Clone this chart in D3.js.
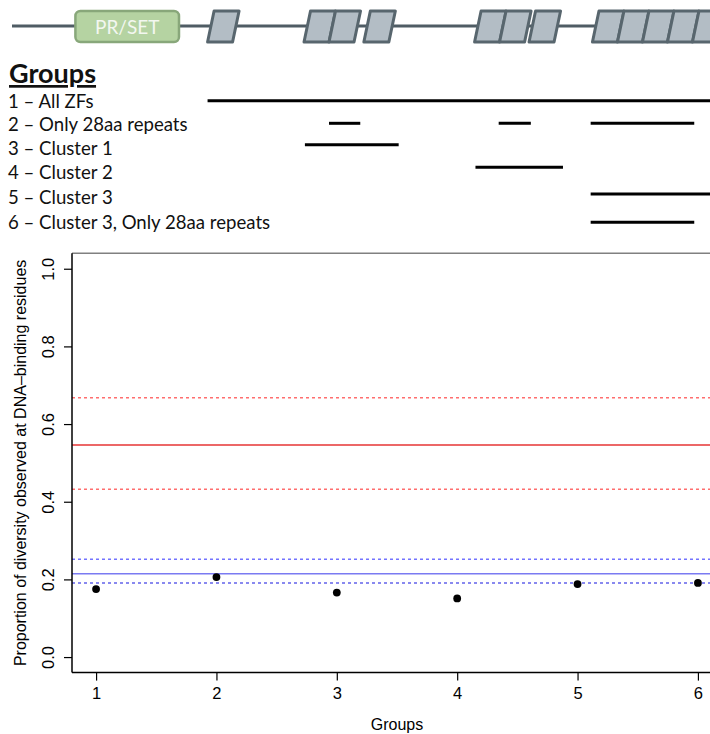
<!DOCTYPE html>
<html>
<head>
<meta charset="utf-8">
<script src="https://cdn.jsdelivr.net/npm/d3@7"></script>
<style>
  html, body { margin: 0; padding: 0; background: #fff; }
  svg { display: block; }
</style>
</head>
<body>
<svg id="fig" width="710" height="734"></svg>
<script>
// ---- Gene model (positions in amino-acid units) ----
const geneLength = 800;
const prSetDomain = [71, 187];
const zfLength = 28;
const zfStarts = [219, 327, 355, 394, 518, 546, 579, 650, 678, 706, 734, 762, 790];

// ---- Groups and the protein regions they cover ----
const groupLabels = [
  "1 \u2013 All ZFs",
  "2 \u2013 Only 28aa repeats",
  "3 \u2013 Cluster 1",
  "4 \u2013 Cluster 2",
  "5 \u2013 Cluster 3",
  "6 \u2013 Cluster 3, Only 28aa repeats"
];
const groupSegments = [
  [[219, 800]],
  [[355, 390], [545, 581], [648, 764]],
  [[328, 433]],
  [[519, 617]],
  [[648, 800]],
  [[648, 764]]
];

// ---- Diversity at DNA-binding residues per group ----
const groups = [1, 2, 3, 4, 5, 6];
const diversity = [0.175, 0.206, 0.166, 0.151, 0.188, 0.191];

// Reference levels: mean (solid) and interval bounds (dotted)
const redMean = 0.546, redLow = 0.432, redHigh = 0.668;
const blueMean = 0.2146, blueHigh = 0.252;
const baseline = 0.1906;

const yTicks = [0, 0.2, 0.4, 0.6, 0.8, 1.0];

const svg = d3.select("#fig");
const legendFont = "Lato, 'Open Sans', sans-serif";
const font = "'Liberation Sans', Arial, Helvetica, sans-serif";

// ================= Gene diagram =================
const gx = d3.scaleLinear().domain([0, geneLength]).range([12, 726.4]);
const geneY = 26, boxTop = 11, boxBot = 42, skew = 6.5;

const gene = svg.append("g");
gene.append("line")
  .attr("x1", gx(0)).attr("x2", gx(geneLength))
  .attr("y1", geneY).attr("y2", geneY)
  .attr("stroke", "#4f5c64").attr("stroke-width", 3);

gene.selectAll("path.zf").data(zfStarts).join("path")
  .attr("class", "zf")
  .attr("d", d => {
    const x0 = gx(d), x1 = gx(d + zfLength);
    return `M${x0},${boxBot} L${x0 + skew},${boxTop} L${x1 + skew},${boxTop} L${x1},${boxBot} Z`;
  })
  .attr("fill", "#b3bdc5")
  .attr("stroke", "#58666e")
  .attr("stroke-width", 3)
  .attr("stroke-linejoin", "round");

gene.append("rect")
  .attr("x", gx(prSetDomain[0])).attr("y", boxTop)
  .attr("width", gx(prSetDomain[1]) - gx(prSetDomain[0]))
  .attr("height", boxBot - boxTop)
  .attr("rx", 5).attr("ry", 5)
  .attr("fill", "#b5d3a2")
  .attr("stroke", "#88a77a")
  .attr("stroke-width", 2.5);

gene.append("text")
  .attr("x", (gx(prSetDomain[0]) + gx(prSetDomain[1])) / 2)
  .attr("y", 33.5)
  .attr("text-anchor", "middle")
  .attr("font-family", legendFont)
  .attr("font-size", 19)
  .attr("fill", "#f3f7f0")
  .text("PR/SET");

// ================= Group legend =================
const legend = svg.append("g");
legend.append("text")
  .attr("x", 9).attr("y", 83)
  .attr("font-family", legendFont)
  .attr("font-weight", "bold")
  .attr("font-size", 27)
  .attr("fill", "#111")
  .attr("text-decoration", "underline")
  .text("Groups");

const rowY = [101, 124, 148, 172.5, 197.5, 222.5];
const segY = [100.7, 123.3, 144.7, 167.3, 194, 222.3];

legend.selectAll("text.grp").data(groupLabels).join("text")
  .attr("class", "grp")
  .attr("x", 8)
  .attr("y", (d, i) => rowY[i] + 6.5)
  .attr("font-family", legendFont)
  .attr("font-size", 18.6)
  .attr("fill", "#111")
  .text(d => d);

groupSegments.forEach((segs, i) => {
  legend.selectAll(null).data(segs).join("line")
    .attr("x1", d => gx(d[0])).attr("x2", d => gx(d[1]))
    .attr("y1", segY[i]).attr("y2", segY[i])
    .attr("stroke", "#000").attr("stroke-width", 3);
});

// ================= Scatter plot =================
const x = d3.scaleLinear().domain([0.8, 6.2]).range([72, 722]);
const y = d3.scaleLinear().domain([-0.04, 1.04]).range([672.6, 253.2]);

const plot = svg.append("g");

// frame
plot.append("line")
  .attr("x1", x(0.8)).attr("x2", x(6.2))
  .attr("y1", y(1.04)).attr("y2", y(1.04))
  .attr("stroke", "#808080").attr("stroke-width", 1.5);

// reference lines
const refLines = [
  { v: redHigh, color: "#ff6e6e", dash: "3,3", w: 1.5 },
  { v: redMean, color: "#e63434", dash: null, w: 1.5 },
  { v: redLow, color: "#ff6e6e", dash: "3,3", w: 1.5 },
  { v: blueHigh, color: "#7373ff", dash: "3,3", w: 1.5 },
  { v: blueMean, color: "#7a7af2", dash: null, w: 1.6 },
  { v: baseline, color: "#1515e0", dash: "3,3", w: 1.1 }
];
plot.selectAll("line.ref").data(refLines).join("line")
  .attr("class", "ref")
  .attr("x1", x(0.8)).attr("x2", x(6.2))
  .attr("y1", d => y(d.v)).attr("y2", d => y(d.v))
  .attr("stroke", d => d.color)
  .attr("stroke-width", d => d.w)
  .attr("stroke-dasharray", d => d.dash);

// axes
const yAxis = plot.append("g")
  .attr("transform", `translate(${x(0.8)},0)`)
  .call(d3.axisLeft(y).tickValues(yTicks).tickFormat(d3.format(".1f")).tickSize(8));
yAxis.select(".domain").attr("d", `M0,${y(-0.04)}V${y(1.04)}`).attr("stroke-width", 1.5);
yAxis.selectAll(".tick line").attr("stroke-width", 1.2);
yAxis.selectAll(".tick text")
  .attr("font-family", font).attr("font-size", 16.5).attr("fill", "#000")
  .attr("text-anchor", "middle")
  .attr("transform", "rotate(-90)")
  .attr("x", 0).attr("y", -18).attr("dy", 0);

const xAxis = plot.append("g")
  .attr("transform", `translate(0,${y(-0.04)})`)
  .call(d3.axisBottom(x).tickValues(groups).tickFormat(d3.format("d")).tickSize(8).tickPadding(7));
xAxis.select(".domain").attr("d", `M${x(0.8)},0H${x(6.2)}`).attr("stroke-width", 1.5);
xAxis.selectAll(".tick line").attr("stroke-width", 1.2);
xAxis.selectAll(".tick text")
  .attr("font-family", font).attr("font-size", 16.5).attr("fill", "#000");

// points
plot.selectAll("circle.pt").data(groups).join("circle")
  .attr("class", "pt")
  .attr("cx", d => x(d))
  .attr("cy", (d, i) => y(diversity[i]))
  .attr("r", 3.9)
  .attr("fill", "#000");

// axis titles
plot.append("text")
  .attr("x", (x(0.8) + x(6.2)) / 2).attr("y", 730)
  .attr("text-anchor", "middle")
  .attr("font-family", font).attr("font-size", 16).attr("fill", "#000")
  .text("Groups");

plot.append("text")
  .attr("transform", `translate(26,${(y(-0.04) + y(1.04)) / 2}) rotate(-90)`)
  .attr("text-anchor", "middle")
  .attr("font-family", font).attr("font-size", 16).attr("fill", "#000")
  .text("Proportion of diversity observed at DNA\u2013binding residues");
</script>
</body>
</html>
